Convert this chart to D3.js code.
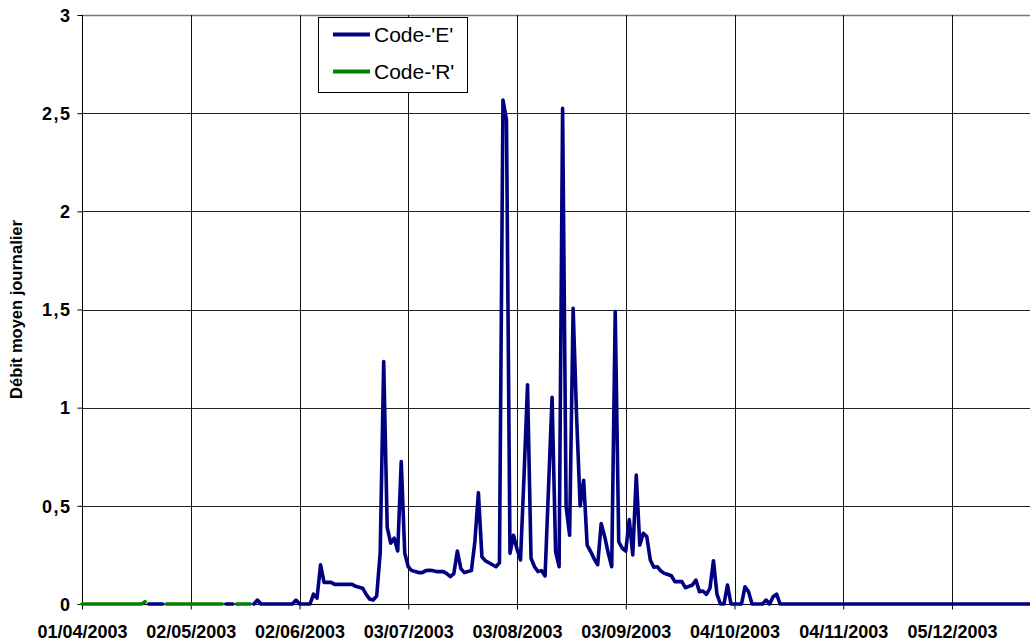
<!DOCTYPE html>
<html>
<head>
<meta charset="utf-8">
<script src="https://cdn.jsdelivr.net/npm/d3@7"></script>
<style>
  html, body { margin: 0; padding: 0; background: #fff; overflow: hidden; }
  svg { display: block; overflow: hidden; }
  text { font-family: Arial, "Liberation Sans", sans-serif; }
</style>
</head>
<body>
<svg id="chart" width="1030" height="643"></svg>
<script>
// ---------- data ----------
const xDomainLabels = ["01/04/2003", "28/12/2003"];
const xTickLabels = ["01/04/2003", "02/05/2003", "02/06/2003", "03/07/2003", "03/08/2003",
                     "03/09/2003", "04/10/2003", "04/11/2003", "05/12/2003"];
const yTicks = [0, 0.5, 1, 1.5, 2, 2.5, 3];
const yTickLabels = ["0", "0,5", "1", "1,5", "2", "2,5", "3"];
const seriesNames = ["Code-'E'", "Code-'R'"];

// Code-'R' : consecutive daily values, one list per run of days
const rStarts = ["01/04/2003", "25/04/2003", "15/05/2003"];
const rValues1 = [0, 0, 0, 0, 0, 0, 0, 0, 0, 0, 0, 0, 0, 0, 0, 0, 0, 0, 0.012];
const rValues2 = [0, 0, 0, 0, 0, 0, 0, 0, 0, 0, 0, 0, 0, 0, 0, 0, 0];
const rValues3 = [0, 0, 0, 0, 0];

// Code-'E' : consecutive daily values, one list per run of days
const eStarts = ["20/04/2003", "12/05/2003", "20/05/2003"];
const eValues1 = [0, 0, 0, 0, 0];
const eValues2 = [0, 0, 0];
const eValues3 = [
  0, 0.02, 0, 0, 0, 0, 0, 0, 0, 0, 0, 0,                 // 20/05 - 31/05
  0.02, 0, 0, 0, 0, 0.05, 0.03, 0.20, 0.11, 0.11,         // 01/06 - 10/06
  0.11, 0.10, 0.10, 0.10, 0.10, 0.10, 0.10, 0.09, 0.085, 0.08, // 11/06 - 20/06
  0.05, 0.025, 0.02, 0.04, 0.26, 1.235, 0.39, 0.31, 0.335, 0.27, // 21/06 - 30/06
  0.725, 0.26, 0.19, 0.17, 0.165, 0.16, 0.16, 0.17, 0.172, 0.17, // 01/07 - 10/07
  0.165, 0.165, 0.165, 0.155, 0.14, 0.155, 0.27, 0.18, 0.16, 0.165, // 11/07 - 20/07
  0.17, 0.32, 0.567, 0.24, 0.22, 0.21, 0.20, 0.19, 0.21, 2.567, 2.466, // 21/07 - 31/07
  0.258, 0.35, 0.28, 0.224, 0.65, 1.116, 0.233, 0.19, 0.165, 0.17, // 01/08 - 10/08
  0.143, 0.6, 1.053, 0.267, 0.19, 2.525, 0.496, 0.35, 1.506, 0.95, // 11/08 - 20/08
  0.5, 0.63, 0.30, 0.267, 0.23, 0.2, 0.41, 0.343, 0.26, 0.19, 1.49, // 21/08 - 31/08
  0.317, 0.284, 0.27, 0.43, 0.25, 0.657, 0.30, 0.36, 0.343, 0.224, // 01/09 - 10/09
  0.187, 0.19, 0.168, 0.156, 0.15, 0.144, 0.114, 0.114, 0.114, 0.083, // 11/09 - 20/09
  0.09, 0.097, 0.122, 0.063, 0.066, 0.049, 0.08, 0.22, 0.05, 0, // 21/09 - 30/09
  0, 0.097, 0, 0, 0, 0, 0.088, 0.063, 0, 0,               // 01/10 - 10/10
  0, 0, 0.02, 0, 0.037, 0.05, 0, 0, 0, 0, 0,              // 11/10 - 21/10
  0, 0, 0, 0, 0, 0, 0, 0, 0, 0,                           // 22/10 - 31/10
  0, 0, 0, 0, 0, 0, 0, 0, 0, 0, 0, 0, 0, 0, 0,            // 01/11 - 15/11
  0, 0, 0, 0, 0, 0, 0, 0, 0, 0, 0, 0, 0, 0, 0,            // 16/11 - 30/11
  0, 0, 0, 0, 0, 0, 0, 0, 0, 0, 0, 0, 0, 0, 0, 0,         // 01/12 - 16/12
  0, 0, 0, 0, 0, 0, 0, 0, 0, 0, 0, 0, 0, 0, 0             // 17/12 - 31/12
];

// ---------- layout ----------
const svg = d3.select("#chart");
const margin = { left: 82, top: 15, bottom: 604 };
const parse = d3.utcParse("%d/%m/%Y");
const dayPx = 108.75 / 31;

const x0 = parse(xDomainLabels[0]), x1 = parse(xDomainLabels[1]);
const spanDays = (x1 - x0) / 864e5;
const x = d3.scaleUtc().domain([x0, x1]).range([margin.left, margin.left + spanDays * dayPx]);
const y = d3.scaleLinear().domain([0, 3]).range([margin.bottom, margin.top]);
const rightEdge = 1030;

function toPoints(start, values) {
  const s = parse(start);
  return values.map((v, i) => ({ date: d3.utcDay.offset(s, i), value: v }));
}
const eSegs = [toPoints(eStarts[0], eValues1), toPoints(eStarts[1], eValues2), toPoints(eStarts[2], eValues3)];
const rSegs = [toPoints(rStarts[0], rValues1), toPoints(rStarts[1], rValues2), toPoints(rStarts[2], rValues3)];

// clip
svg.append("defs").append("clipPath").attr("id", "plotclip")
  .append("rect").attr("x", margin.left - 5).attr("y", 0)
  .attr("width", rightEdge - margin.left + 5).attr("height", 643);

// horizontal gridlines
const gridG = svg.append("g");
gridG.selectAll("line.h").data(yTicks.filter(d => d > 0)).enter().append("line")
  .attr("x1", margin.left).attr("x2", rightEdge)
  .attr("y1", d => Math.round(y(d)) + 0.5).attr("y2", d => Math.round(y(d)) + 0.5)
  .attr("stroke", d => d === 3 ? "#777" : "#222").attr("stroke-width", d => d === 3 ? 1.6 : 1);

// vertical gridlines
const tickDates = xTickLabels.map(parse);
gridG.selectAll("line.v").data(tickDates.slice(1)).enter().append("line")
  .attr("x1", d => Math.round(x(d)) + 0.5).attr("x2", d => Math.round(x(d)) + 0.5)
  .attr("y1", margin.top).attr("y2", margin.bottom)
  .attr("stroke", "#111").attr("stroke-width", 1);

// axes
const xAxis = d3.axisBottom(x).tickValues(tickDates).tickSize(5).tickFormat((d, i) => xTickLabels[i]);
const xg = svg.append("g").attr("transform", `translate(0,${Math.round(y(0)) + 0.5})`).call(xAxis);
xg.select(".domain").attr("d", `M${margin.left},0H${rightEdge}`).attr("stroke", "#000");
xg.selectAll(".tick line").attr("stroke", "#000");
xg.selectAll(".tick text")
  .attr("y", 27).attr("dy", "0.35em")
  .attr("font-size", 18).attr("font-weight", "bold").attr("fill", "#000")
  .attr("font-family", "Arial, 'Liberation Sans', sans-serif");

const yAxis = d3.axisLeft(y).tickValues(yTicks).tickSize(5).tickFormat((d, i) => yTickLabels[i]);
const yg = svg.append("g").attr("transform", `translate(${margin.left + 0.5},0)`).call(yAxis);
yg.select(".domain").attr("d", `M0,${margin.top}V${margin.bottom}`).attr("stroke", "#000");
yg.selectAll(".tick line").attr("stroke", "#000");
yg.selectAll(".tick text")
  .attr("x", -11).attr("dy", "0.35em")
  .attr("font-size", 18).attr("font-weight", "bold").attr("fill", "#000")
  .attr("letter-spacing", "1.5px")
  .attr("font-family", "Arial, 'Liberation Sans', sans-serif");

// y axis title
svg.append("text")
  .attr("transform", `translate(22,${(margin.top + margin.bottom) / 2}) rotate(-90)`)
  .attr("text-anchor", "middle")
  .attr("font-size", 16.5).attr("font-weight", "bold").attr("fill", "#000")
  .text("Débit moyen journalier");

// lines
const line = d3.line().x(d => x(d.date)).y(d => y(d.value));
const plotG = svg.append("g").attr("clip-path", "url(#plotclip)");
const colors = { E: "#000080", R: "#008000" };
rSegs.forEach(seg => plotG.append("path").datum(seg).attr("d", line)
  .attr("fill", "none").attr("stroke", colors.R).attr("stroke-width", 3.6)
  .attr("stroke-linejoin", "round").attr("stroke-linecap", "round"));
eSegs.forEach(seg => plotG.append("path").datum(seg).attr("d", line)
  .attr("fill", "none").attr("stroke", colors.E).attr("stroke-width", 3.6)
  .attr("stroke-linejoin", "round").attr("stroke-linecap", "round"));

// legend
const lg = svg.append("g");
lg.append("rect").attr("x", 318.5).attr("y", 17.5).attr("width", 149).attr("height", 75)
  .attr("fill", "#fff").attr("stroke", "#000").attr("stroke-width", 1);
const legendColors = [colors.E, colors.R];
seriesNames.forEach((name, i) => {
  const cy = 34.5 + i * 37;
  lg.append("line").attr("x1", 333).attr("x2", 370).attr("y1", cy).attr("y2", cy)
    .attr("stroke", legendColors[i]).attr("stroke-width", 4);
  lg.append("text").attr("x", 374).attr("y", cy).attr("dy", "0.35em")
    .attr("font-size", 21).attr("fill", "#000").text(name);
});
</script>
</body>
</html>
